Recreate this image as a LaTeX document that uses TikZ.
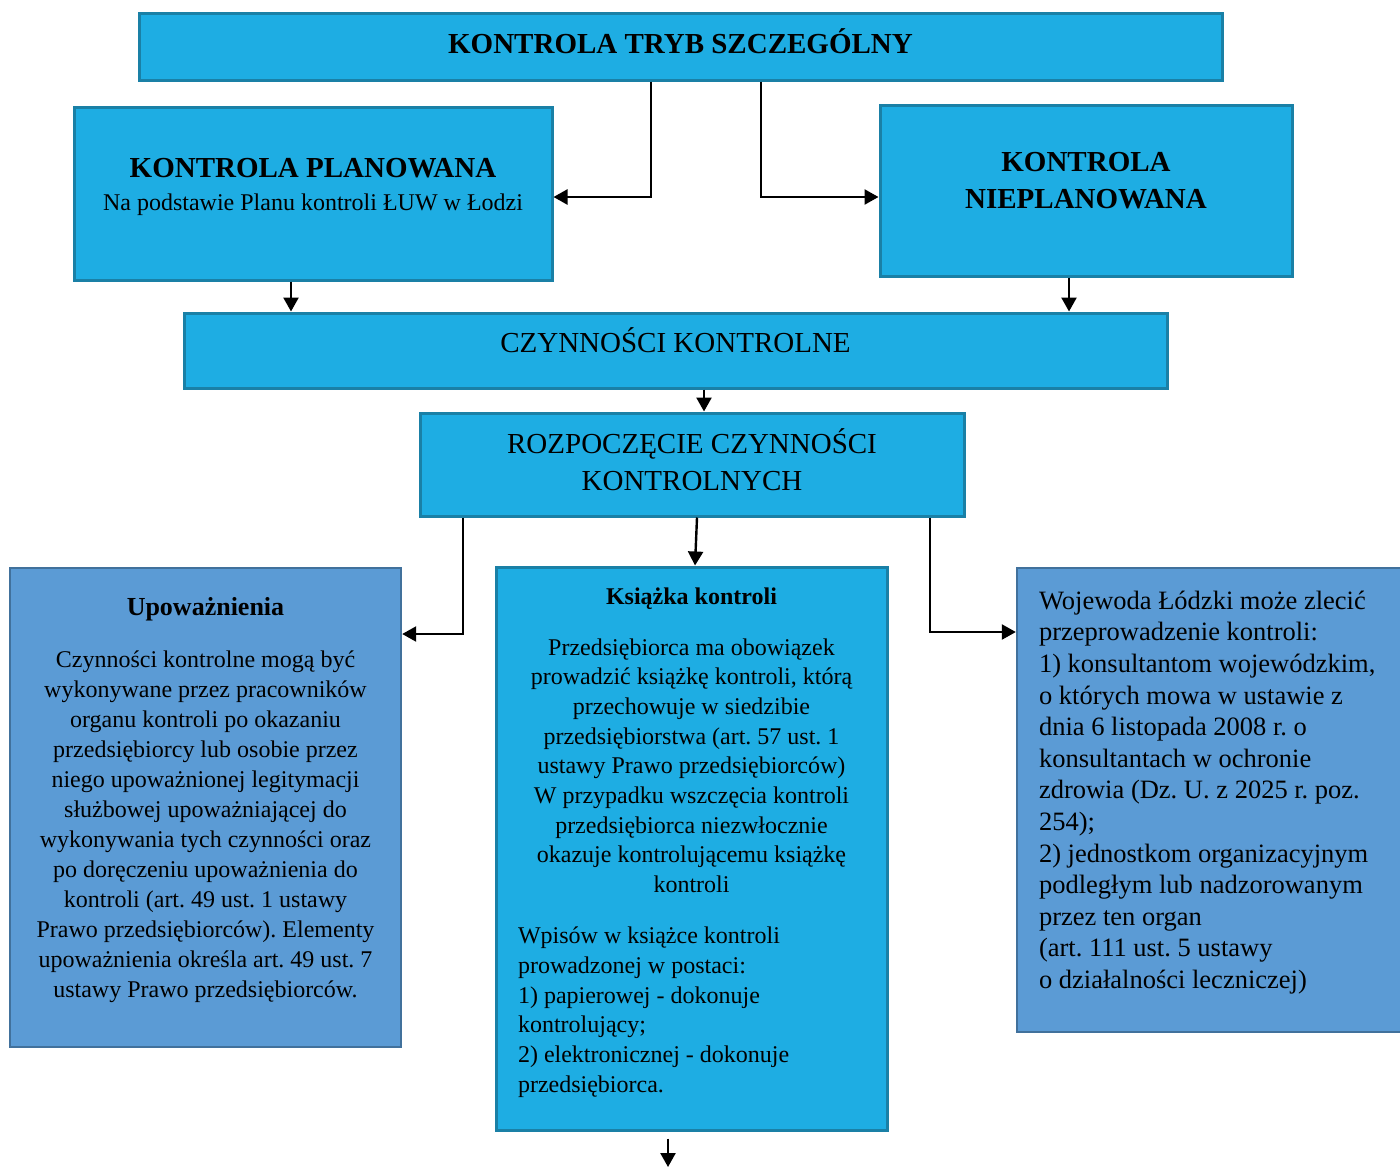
\documentclass[tikz,border=0pt]{standalone}
\usepackage{fontspec}
\setmainfont{Liberation Serif}
\usetikzlibrary{arrows.meta}
\definecolor{jasny}{HTML}{1EADE3}
\definecolor{jasnyb}{HTML}{1A80A6}
\definecolor{ciemny}{HTML}{5B9BD5}
\definecolor{ciemnyb}{HTML}{41719C}
\frenchspacing
% left aligned line inside a centred box, and extra depth under the last line
\newcommand{\wlewo}[1]{\makebox[173.5pt][l]{#1}}
\newcommand{\podpora}[1]{\rule[-#1]{0pt}{#1}}
\begin{document}
\begin{tikzpicture}[x=0.5pt,y=-0.5pt,
	box/.style={draw=jasnyb,fill=jasny,line width=1.5pt,inner sep=0pt,align=center},
	sidebox/.style={draw=ciemnyb,fill=ciemny,line width=1.2pt,inner sep=0pt},
	duzy/.style={font=\fontsize{14.5}{18.5}\selectfont},
	maly/.style={font=\fontsize{12}{15}\selectfont},
	arr/.style={-{Triangle[length=7pt,width=7.5pt]},line width=1.2pt}]
	\useasboundingbox (0,0) rectangle (1400,1167);
	% top row
	\node[box,duzy,minimum width=541.5pt,minimum height=33.5pt] (tryb) at (680.5,46.5)
		{\bfseries KONTROLA TRYB SZCZEGÓLNY\podpora{5pt}};
	\node[box,font=\fontsize{12}{16.5}\selectfont,minimum width=239pt,minimum height=86.5pt] (plan) at (313,193.5)
		{{\bfseries\fontsize{14.5}{16.5}\selectfont KONTROLA PLANOWANA}\\Na podstawie Planu kontroli ŁUW w Łodzi\podpora{9.6pt}};
	\node[box,duzy,minimum width=206pt,minimum height=85.5pt] (nplan) at (1086,190.5)
		{\bfseries KONTROLA\\\bfseries NIEPLANOWANA\podpora{10pt}};
	% middle
	\node[box,duzy,minimum width=491.5pt,minimum height=37.5pt] (czyn) at (675.5,350.5)
		{CZYNNOŚCI KONTROLNE\podpora{10pt}};
	\node[box,duzy,minimum width=272pt,minimum height=51.5pt] (rozp) at (692,464.5)
		{ROZPOCZĘCIE CZYNNOŚCI\\KONTROLNYCH\podpora{5pt}};
	% bottom row
	\node[sidebox,maly,align=center,minimum width=195.5pt,minimum height=239.5pt] (upow) at (205.5,807.5)
		{{\bfseries\fontsize{13}{15}\selectfont Upoważnienia}\\[11pt]
		Czynności kontrolne mogą być\\
		wykonywane przez pracowników\\
		organu kontroli po okazaniu\\
		przedsiębiorcy lub osobie przez\\
		niego upoważnionej legitymacji\\
		służbowej upoważniającej do\\
		wykonywania tych czynności oraz\\
		po doręczeniu upoważnienia do\\
		kontroli (art. 49 ust. 1 ustawy\\
		Prawo przedsiębiorców). Elementy\\
		upoważnienia określa art. 49 ust. 7\\
		ustawy Prawo przedsiębiorców.\podpora{9.6pt}};
	\node[box,font=\fontsize{12}{14.85}\selectfont,minimum width=195.5pt,minimum height=281.5pt] (ksiaz) at (691.5,848.5)
		{\textbf{Książka kontroli}\\[10.5pt]
		Przedsiębiorca ma obowiązek\\
		prowadzić książkę kontroli, którą\\
		przechowuje w siedzibie\\
		przedsiębiorstwa (art. 57 ust. 1\\
		ustawy Prawo przedsiębiorców)\\
		W przypadku wszczęcia kontroli\\
		przedsiębiorca niezwłocznie\\
		okazuje kontrolującemu książkę\\
		kontroli\\[10.65pt]
		\wlewo{Wpisów w książce kontroli}\\
		\wlewo{prowadzonej w postaci:}\\
		\wlewo{1) papierowej - dokonuje}\\
		\wlewo{kontrolujący;}\\
		\wlewo{2) elektronicznej - dokonuje}\\
		\wlewo{przedsiębiorca.}\podpora{8.6pt}};
	\node[sidebox,font=\fontsize{13.25}{15.8}\selectfont,align=flush left,text width=200pt,inner xsep=11pt,minimum height=232pt] (woj) at (1239,800)
		{Wojewoda Łódzki może zlecić\\
		przeprowadzenie kontroli:\\
		1) konsultantom wojewódzkim,\\
		o których mowa w ustawie z\\
		dnia 6 listopada 2008 r. o\\
		konsultantach w ochronie\\
		zdrowia (Dz. U. z 2025 r. poz.\\
		254);\\
		2) jednostkom organizacyjnym\\
		podległym lub nadzorowanym\\
		przez ten organ\\
		(art. 111 ust. 5 ustawy\\
		o działalności leczniczej)\podpora{10.4pt}};
	\coordinate (dalej) at (668,1167);
	% connectors
	\draw[arr] (tryb.south -| 651,0) |- (plan.east |- 0,197);
	\draw[arr] (tryb.south -| 761,0) |- (nplan.west |- 0,197);
	\draw[arr] (plan.south -| 291,0) -- (czyn.north -| 291,0);
	\draw[arr] (nplan.south -| 1069,0) -- (czyn.north -| 1069,0);
	\draw[arr] (czyn.south -| 704,0) -- (rozp.north -| 704,0);
	\draw[arr] (rozp.south -| 463,0) |- (upow.east |- 0,634);
	\draw[arr] (rozp.south -| 697,0) -- (ksiaz.north -| 695,0);
	\draw[arr] (rozp.south -| 930,0) |- (woj.west |- 0,632);
	\draw[arr,shorten <=3.5pt] (ksiaz.south -| dalej) -- (dalej);
\end{tikzpicture}
\end{document}
